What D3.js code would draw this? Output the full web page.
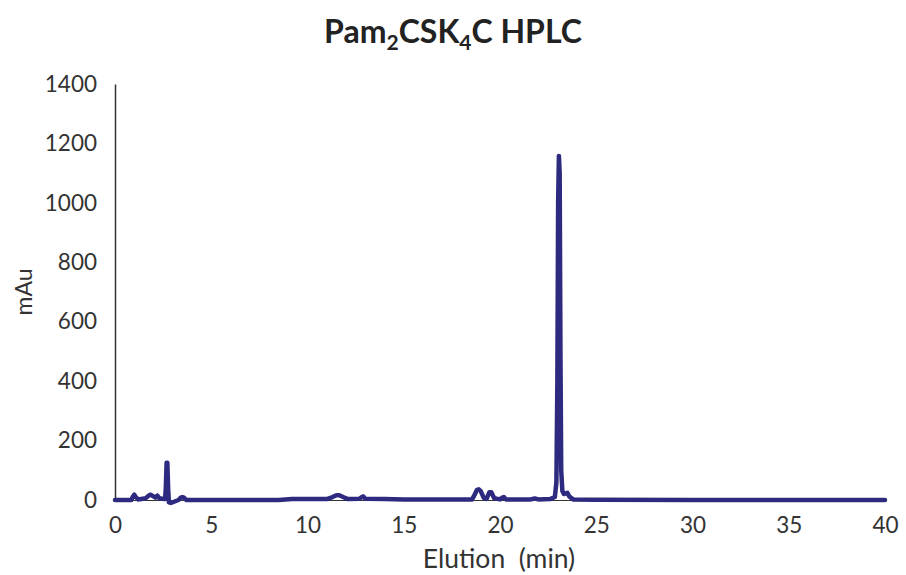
<!DOCTYPE html>
<html><head><meta charset="utf-8">
<script src="https://cdn.jsdelivr.net/npm/d3@7"></script>
<style>body{margin:0;background:#fff}svg{display:block}text{font-family:Lato,"Open Sans",sans-serif}</style>
</head><body><svg id="c" width="906" height="575"></svg>
<script>
const xTicks=[0,5,10,15,20,25,30,35,40];
const yTicks=[0,200,400,600,800,1000,1200,1400];
const elution=[0,0.85,0.92,1.0,1.08,1.2,1.6,1.75,1.85,1.95,2.1,2.2,2.3,2.45,2.6,2.64,2.68,2.72,2.76,2.8,2.9,3.1,3.3,3.42,3.5,3.58,3.7,4.5,8.5,9.2,11.0,11.3,11.5,11.65,11.85,12.1,12.7,12.82,12.9,13.0,14.0,15,18.55,18.7,18.8,18.9,19.0,19.15,19.3,19.45,19.55,19.7,20.0,20.12,20.2,20.3,21.6,21.8,22.0,22.6,22.85,22.93,22.98,23.02,23.06,23.1,23.14,23.18,23.24,23.32,23.42,23.5,23.6,23.8,25,30,40];
const mAu=[0,0,10,18,10,2,6,15,18,14,8,15,6,4,3,40,125,125,40,-8,-10,-5,0,8,10,8,0,0,0,3,3,10,16,16,10,3,4,10,12,4,3,2,2,20,34,36,30,8,4,26,26,6,2,8,10,2,2,5,2,3,10,60,400,1000,1158,1100,500,100,30,20,22,24,12,2,1,0,0];

const svg=d3.select("#c");
const x=d3.scaleLinear().domain([0,40]).range([115,885]);
const y=d3.scaleLinear().domain([0,1400]).range([500,84]);

svg.append("text").attr("x",453).attr("y",43).attr("text-anchor","middle")
  .attr("font-size",32).attr("font-weight","bold").attr("fill","#222")
  .call(t=>{
    t.append("tspan").text("Pam");
    t.append("tspan").attr("font-size",21).attr("dy",7).text("2");
    t.append("tspan").attr("dy",-7).text("CSK");
    t.append("tspan").attr("font-size",21).attr("dy",7).text("4");
    t.append("tspan").attr("dy",-7).text("C HPLC");
  });

const ya=svg.append("g").attr("transform","translate(115,0)")
  .call(d3.axisLeft(y).tickValues(yTicks).tickSize(0).tickPadding(18).tickFormat(d3.format("d")));
ya.select(".domain").attr("stroke","#333").attr("stroke-width",1.5);
ya.selectAll("text").attr("font-size",22.5).attr("fill","#333");

const xa=svg.append("g").attr("transform","translate(0,500)")
  .call(d3.axisBottom(x).tickValues(xTicks).tickSize(0).tickPadding(17));
xa.select(".domain").attr("stroke","#333").attr("stroke-width",1);
xa.selectAll("text").attr("font-size",22.5).attr("fill","#333");

svg.append("text").attr("transform","translate(32,292) rotate(-90)").attr("text-anchor","middle")
  .attr("font-size",23).attr("fill","#333").text("mAu");
svg.append("text").attr("x",499).attr("y",568).attr("text-anchor","middle")
  .attr("font-size",26.5).attr("fill","#333").attr("xml:space","preserve").text("Elution  (min)");

const pts=elution.map((t,i)=>[t,mAu[i]]);
svg.append("path").datum(pts).attr("fill","none").attr("stroke","#2d2a80")
  .attr("stroke-width",4.5).attr("stroke-linejoin","round").attr("stroke-linecap","round")
  .attr("d",d3.line().x(d=>x(d[0])).y(d=>y(d[1])));
</script></body></html>
